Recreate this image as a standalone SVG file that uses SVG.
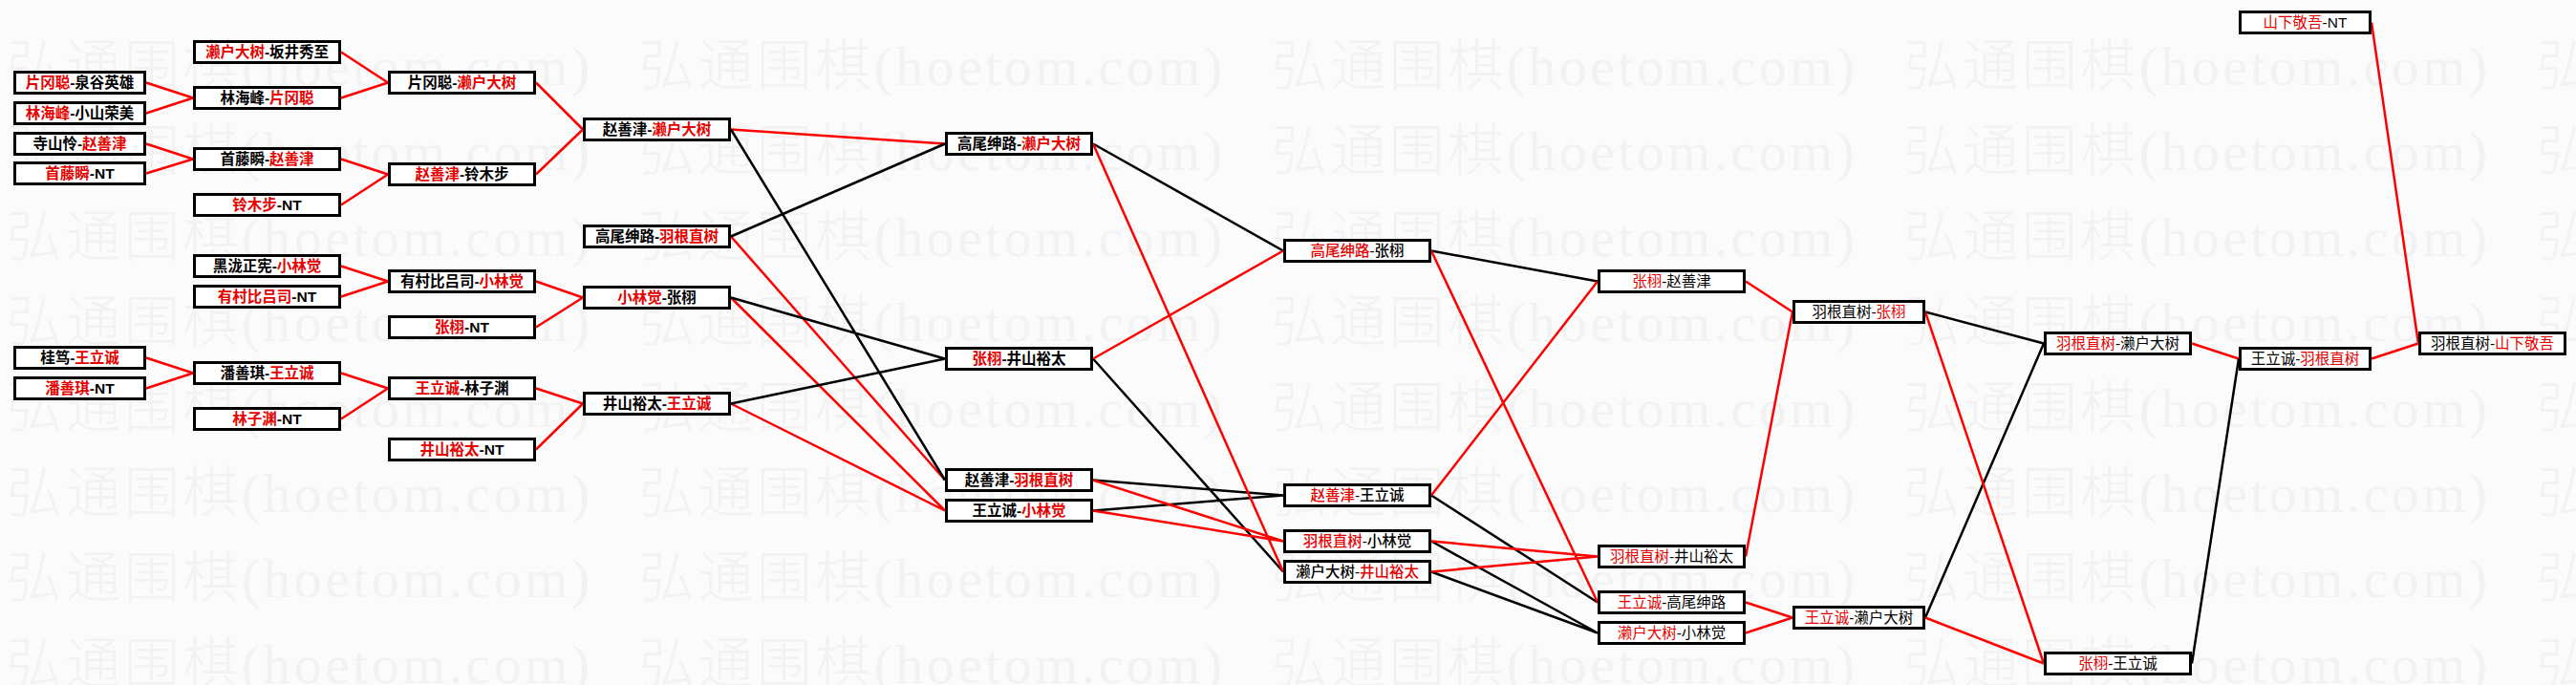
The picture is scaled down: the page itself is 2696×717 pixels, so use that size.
<svg xmlns="http://www.w3.org/2000/svg" xmlns:xlink="http://www.w3.org/1999/xlink" width="2696" height="717" viewBox="0 0 2696 717">
<style>
.wm{font-family:"Liberation Serif","Noto Sans CJK SC",serif;font-size:58px;fill:#f2f2f2;font-weight:300}
.node rect{fill:#fff;stroke:#000;stroke-width:3}
.node text{font-family:"Liberation Sans","Noto Sans CJK SC",sans-serif;font-size:15.5px;text-anchor:middle;fill:#000}
.bd text{font-weight:700}
.md text{font-weight:500}
.r{fill:#e60000}
.cr{stroke:#f00;stroke-width:2.5;fill:none}
.ck{stroke:#000;stroke-width:2.5;fill:none}
</style>
<defs>
<g id="wmrow">
<text class="wm" x="7" textLength="610" lengthAdjust="spacing">弘通围棋(hoetom.com)</text>
<text class="wm" x="669" textLength="610" lengthAdjust="spacing">弘通围棋(hoetom.com)</text>
<text class="wm" x="1331" textLength="610" lengthAdjust="spacing">弘通围棋(hoetom.com)</text>
<text class="wm" x="1993" textLength="610" lengthAdjust="spacing">弘通围棋(hoetom.com)</text>
<text class="wm" x="2655" textLength="610" lengthAdjust="spacing">弘通围棋(hoetom.com)</text>
</g>
</defs>
<rect width="2696" height="717" fill="#fbfbfb"/>
<g id="watermark">
<use xlink:href="#wmrow" y="89"/>
<use xlink:href="#wmrow" y="178"/>
<use xlink:href="#wmrow" y="268"/>
<use xlink:href="#wmrow" y="357"/>
<use xlink:href="#wmrow" y="447"/>
<use xlink:href="#wmrow" y="536"/>
<use xlink:href="#wmrow" y="625"/>
<use xlink:href="#wmrow" y="715"/>
</g>
<g id="connectors">
<path class="cr" d="M153,86.5L202,102.5M153,118.5L202,102.5M153,150.5L202,166.5M153,181.5L202,166.5M357,54.5L406,86.5M357,102.5L406,86.5M357,166.5L406,182.5M357,214.5L406,182.5M561,86.5L610,135.5M561,182.5L610,135.5M357,278.5L406,294.5M357,310.5L406,294.5M153,374.5L202,390.5M153,406.5L202,390.5M357,390.5L406,406.5M357,438.5L406,406.5M561,294.5L610,311.5M561,342.5L610,311.5M561,406.5L610,422.5M561,470.5L610,422.5"/>
<path class="cr" d="M765,135.5L989,150.5M765,247.5L989,502.5M765,311.5L989,534.5M765,422.5L989,534.5"/>
<path class="ck" d="M765,247.5L989,150.5M765,135.5L989,502.5M765,311.5L989,375.5M765,422.5L989,375.5"/>
<path class="ck" d="M1144,150.5L1343,262.5M1144,375.5L1343,598.5M1144,502.5L1343,518.5M1144,534.5L1343,518.5"/>
<path class="cr" d="M1144,150.5L1343,598.5M1144,375.5L1343,262.5M1144,502.5L1343,566.5M1144,534.5L1343,566.5"/>
<path class="ck" d="M1498,262.5L1672,294.5M1498,518.5L1672,630.5M1498,566.5L1672,662.5M1498,598.5L1672,662.5"/>
<path class="cr" d="M1498,262.5L1672,630.5M1498,518.5L1672,294.5M1498,566.5L1672,582.5M1498,598.5L1672,582.5"/>
<path class="cr" d="M1827,294.5L1876,326.5M1827,582.5L1876,326.5M1827,630.5L1876,646.5M1827,662.5L1876,646.5"/>
<path class="ck" d="M2015,326.5L2139,359.5M2015,646.5L2139,359.5"/>
<path class="cr" d="M2015,326.5L2139,694.5M2015,646.5L2139,694.5"/>
<path class="cr" d="M2294,359.5L2343,375.5M2482,23.5L2531,359.5M2482,375.5L2531,359.5"/>
<path class="ck" d="M2294,694.5L2343,375.5"/>
</g>
<g id="nodes">
<g id="n1" class="node bd"><rect x="15.5" y="75.5" width="136" height="22"/><text x="83.5" y="92"><tspan class="r">片冈聪</tspan>-泉谷英雄</text></g>
<g id="n2" class="node bd"><rect x="15.5" y="107.5" width="136" height="22"/><text x="83.5" y="124"><tspan class="r">林海峰</tspan>-小山荣美</text></g>
<g id="n3" class="node bd"><rect x="15.5" y="139.5" width="136" height="22"/><text x="83.5" y="156">寺山怜-<tspan class="r">赵善津</tspan></text></g>
<g id="n4" class="node bd"><rect x="15.5" y="170.5" width="136" height="22"/><text x="83.5" y="187"><tspan class="r">首藤瞬</tspan>-NT</text></g>
<g id="n5" class="node bd"><rect x="15.5" y="363.5" width="136" height="22"/><text x="83.5" y="380">桂笃-<tspan class="r">王立诚</tspan></text></g>
<g id="n6" class="node bd"><rect x="15.5" y="395.5" width="136" height="22"/><text x="83.5" y="412"><tspan class="r">潘善琪</tspan>-NT</text></g>

<g id="m1" class="node bd"><rect x="203.5" y="43.5" width="152" height="22"/><text x="279.5" y="60"><tspan class="r">濑户大树</tspan>-坂井秀至</text></g>
<g id="m2" class="node bd"><rect x="203.5" y="91.5" width="152" height="22"/><text x="279.5" y="108">林海峰-<tspan class="r">片冈聪</tspan></text></g>
<g id="m3" class="node bd"><rect x="203.5" y="155.5" width="152" height="22"/><text x="279.5" y="172">首藤瞬-<tspan class="r">赵善津</tspan></text></g>
<g id="m4" class="node bd"><rect x="203.5" y="203.5" width="152" height="22"/><text x="279.5" y="220"><tspan class="r">铃木步</tspan>-NT</text></g>
<g id="m5" class="node bd"><rect x="203.5" y="267.5" width="152" height="22"/><text x="279.5" y="284">黑泷正宪-<tspan class="r">小林觉</tspan></text></g>
<g id="m6" class="node bd"><rect x="203.5" y="299.5" width="152" height="22"/><text x="279.5" y="316"><tspan class="r">有村比吕司</tspan>-NT</text></g>
<g id="m7" class="node bd"><rect x="203.5" y="379.5" width="152" height="22"/><text x="279.5" y="396">潘善琪-<tspan class="r">王立诚</tspan></text></g>
<g id="m8" class="node bd"><rect x="203.5" y="427.5" width="152" height="22"/><text x="279.5" y="444"><tspan class="r">林子渊</tspan>-NT</text></g>

<g id="k1" class="node bd"><rect x="407.5" y="75.5" width="152" height="22"/><text x="483.5" y="92">片冈聪-<tspan class="r">濑户大树</tspan></text></g>
<g id="k2" class="node bd"><rect x="407.5" y="171.5" width="152" height="22"/><text x="483.5" y="188"><tspan class="r">赵善津</tspan>-铃木步</text></g>
<g id="k3" class="node bd"><rect x="407.5" y="283.5" width="152" height="22"/><text x="483.5" y="300">有村比吕司-<tspan class="r">小林觉</tspan></text></g>
<g id="k4" class="node bd"><rect x="407.5" y="331.5" width="152" height="22"/><text x="483.5" y="348"><tspan class="r">张栩</tspan>-NT</text></g>
<g id="k5" class="node bd"><rect x="407.5" y="395.5" width="152" height="22"/><text x="483.5" y="412"><tspan class="r">王立诚</tspan>-林子渊</text></g>
<g id="k6" class="node bd"><rect x="407.5" y="459.5" width="152" height="22"/><text x="483.5" y="476"><tspan class="r">井山裕太</tspan>-NT</text></g>

<g id="j1" class="node bd"><rect x="611.5" y="124.5" width="152" height="22"/><text x="687.5" y="141">赵善津-<tspan class="r">濑户大树</tspan></text></g>
<g id="j2" class="node bd"><rect x="611.5" y="236.5" width="152" height="22"/><text x="687.5" y="253">高尾绅路-<tspan class="r">羽根直树</tspan></text></g>
<g id="j3" class="node bd"><rect x="611.5" y="300.5" width="152" height="22"/><text x="687.5" y="317"><tspan class="r">小林觉</tspan>-张栩</text></g>
<g id="j4" class="node bd"><rect x="611.5" y="411.5" width="152" height="22"/><text x="687.5" y="428">井山裕太-<tspan class="r">王立诚</tspan></text></g>

<g id="i1" class="node bd"><rect x="990.5" y="139.5" width="152" height="22"/><text x="1066.5" y="156">高尾绅路-<tspan class="r">濑户大树</tspan></text></g>
<g id="i2" class="node bd"><rect x="990.5" y="364.5" width="152" height="22"/><text x="1066.5" y="381"><tspan class="r">张栩</tspan>-井山裕太</text></g>
<g id="i3" class="node bd"><rect x="990.5" y="491.5" width="152" height="22"/><text x="1066.5" y="508">赵善津-<tspan class="r">羽根直树</tspan></text></g>
<g id="i4" class="node bd"><rect x="990.5" y="523.5" width="152" height="22"/><text x="1066.5" y="540">王立诚-<tspan class="r">小林觉</tspan></text></g>

<g id="h1" class="node md"><rect x="1344.5" y="251.5" width="152" height="22"/><text x="1420.5" y="268"><tspan class="r">高尾绅路</tspan>-张栩</text></g>
<g id="h2" class="node md"><rect x="1344.5" y="507.5" width="152" height="22"/><text x="1420.5" y="524"><tspan class="r">赵善津</tspan>-王立诚</text></g>
<g id="h3" class="node md"><rect x="1344.5" y="555.5" width="152" height="22"/><text x="1420.5" y="572"><tspan class="r">羽根直树</tspan>-小林觉</text></g>
<g id="h4" class="node md"><rect x="1344.5" y="587.5" width="152" height="22"/><text x="1420.5" y="604">濑户大树-<tspan class="r">井山裕太</tspan></text></g>

<g id="g1" class="node"><rect x="1673.5" y="283.5" width="152" height="22"/><text x="1749.5" y="300"><tspan class="r">张栩</tspan>-赵善津</text></g>
<g id="g2" class="node"><rect x="1673.5" y="571.5" width="152" height="22"/><text x="1749.5" y="588"><tspan class="r">羽根直树</tspan>-井山裕太</text></g>
<g id="g3" class="node"><rect x="1673.5" y="619.5" width="152" height="22"/><text x="1749.5" y="636"><tspan class="r">王立诚</tspan>-高尾绅路</text></g>
<g id="g4" class="node"><rect x="1673.5" y="651.5" width="152" height="22"/><text x="1749.5" y="668"><tspan class="r">濑户大树</tspan>-小林觉</text></g>

<g id="f1" class="node"><rect x="1877.5" y="315.5" width="136" height="22"/><text x="1945.5" y="332">羽根直树-<tspan class="r">张栩</tspan></text></g>
<g id="f2" class="node"><rect x="1877.5" y="635.5" width="136" height="22"/><text x="1945.5" y="652"><tspan class="r">王立诚</tspan>-濑户大树</text></g>

<g id="e1" class="node"><rect x="2140.5" y="348.5" width="152" height="22"/><text x="2216.5" y="365"><tspan class="r">羽根直树</tspan>-濑户大树</text></g>
<g id="e2" class="node"><rect x="2140.5" y="683.5" width="152" height="22"/><text x="2216.5" y="700"><tspan class="r">张栩</tspan>-王立诚</text></g>

<g id="d1" class="node"><rect x="2344.5" y="12.5" width="136" height="22"/><text x="2412.5" y="29"><tspan class="r">山下敬吾</tspan>-NT</text></g>
<g id="d2" class="node"><rect x="2344.5" y="364.5" width="136" height="22"/><text x="2412.5" y="381">王立诚-<tspan class="r">羽根直树</tspan></text></g>

<g id="c1" class="node"><rect x="2532.5" y="348.5" width="152" height="22"/><text x="2608.5" y="365">羽根直树-<tspan class="r">山下敬吾</tspan></text></g>
</g>
</svg>
